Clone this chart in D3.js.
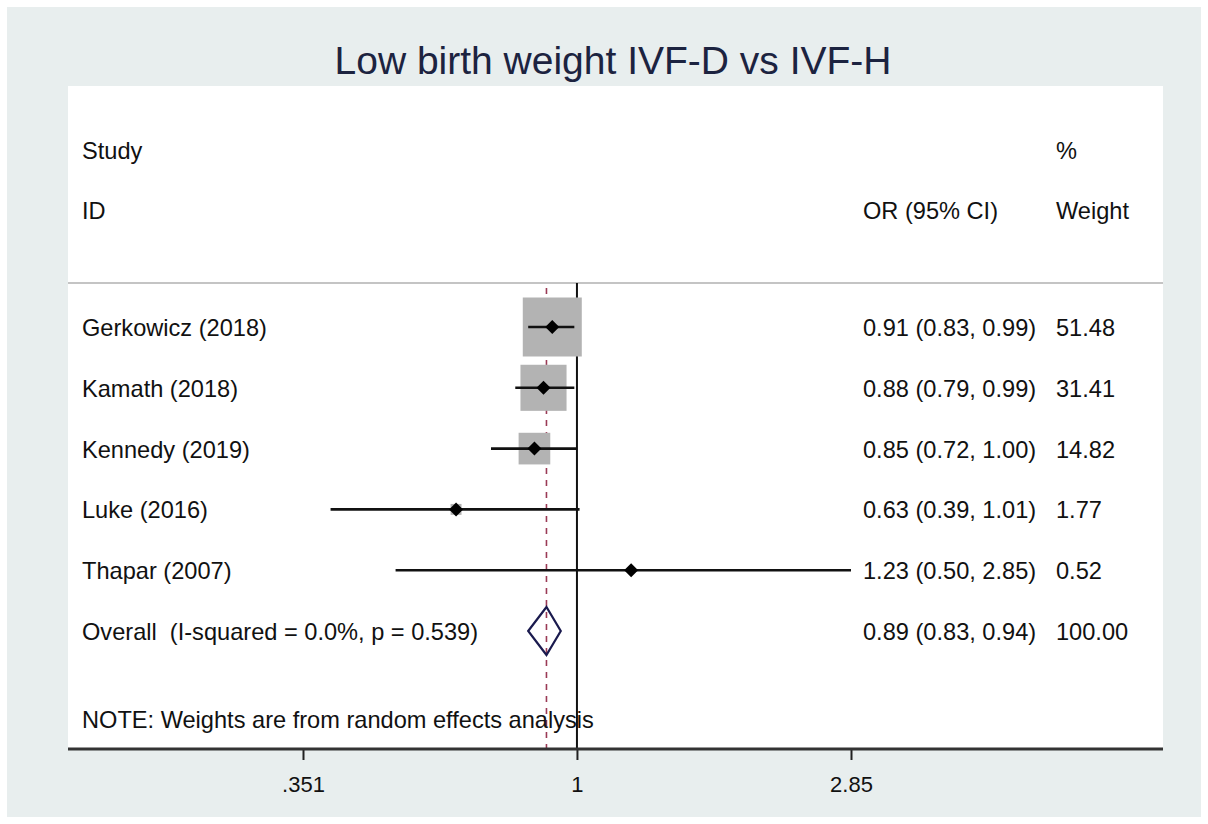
<!DOCTYPE html>
<html>
<head>
<meta charset="utf-8">
<script src="https://cdn.jsdelivr.net/npm/d3@7"></script>
<style>
  html, body { margin: 0; padding: 0; background: #fff; }
  svg { display: block; font-family: "Liberation Sans", Arial, sans-serif; }
</style>
</head>
<body>
<div id="chart"></div>
<script>
// data
const studies = ["Gerkowicz (2018)", "Kamath (2018)", "Kennedy (2019)", "Luke (2016)", "Thapar (2007)"];
const oddsRatio = [0.91, 0.88, 0.85, 0.63, 1.23];
const ciLow = [0.83, 0.79, 0.72, 0.39, 0.50];
const ciHigh = [0.99, 0.99, 1.00, 1.01, 2.85];
const weights = [51.48, 31.41, 14.82, 1.77, 0.52];
const overallLabel = "Overall  (I-squared = 0.0%, p = 0.539)";
const overall = [0.89, 0.83, 0.94]; // OR, lo, hi
const overallWeight = 100.00;
const tickValues = [0.351, 1, 2.85];
const tickLabels = [".351", "1", "2.85"];

const W = 1208, H = 824;
const plot = { left: 68, right: 1163, top: 86, bottom: 749 };

const svg = d3.select("#chart").append("svg")
    .attr("width", W).attr("height", H);

// outer background
svg.append("rect").attr("width", W).attr("height", H).attr("fill", "#fff");
svg.append("rect").attr("x", 7).attr("y", 7).attr("width", W - 14).attr("height", H - 14)
    .attr("fill", "#e8eeee");
svg.append("rect").attr("x", plot.left).attr("y", plot.top)
    .attr("width", plot.right - plot.left).attr("height", plot.bottom - plot.top)
    .attr("fill", "#fff");

// title
svg.append("text")
    .attr("x", 613).attr("y", 74)
    .attr("text-anchor", "middle")
    .attr("font-size", 39)
    .attr("fill", "#1c2340")
    .text("Low birth weight IVF-D vs IVF-H");

// scales
const x = d3.scaleLog().domain([0.351, 2.85]).range([303, 851]);
const rows = studies.concat([overallLabel]);
const y = d3.scalePoint().domain(rows).range([327, 631]);
const boxSize = d3.scaleSqrt().domain([0, 51.48]).range([0, 59]);

const fs = 23.6;
const colText = { label: 82, or: 863, weight: 1056 };

// header
const hdr = svg.append("g").attr("font-size", fs).attr("fill", "#111");
hdr.append("text").attr("x", colText.label).attr("y", 159).text("Study");
hdr.append("text").attr("x", colText.label).attr("y", 219).text("ID");
hdr.append("text").attr("x", colText.weight).attr("y", 159).text("%");
hdr.append("text").attr("x", colText.or).attr("y", 219).text("OR (95% CI)");
hdr.append("text").attr("x", colText.weight).attr("y", 219).text("Weight");

// separator under header
svg.append("line")
    .attr("x1", plot.left).attr("x2", plot.right)
    .attr("y1", 283).attr("y2", 283)
    .attr("stroke", "#c4c4c4").attr("stroke-width", 2);

// null line at OR = 1
svg.append("line")
    .attr("x1", x(1)).attr("x2", x(1))
    .attr("y1", 283).attr("y2", plot.bottom)
    .attr("stroke", "#111").attr("stroke-width", 2);

// dashed line at overall estimate
svg.append("line")
    .attr("x1", x(overall[0])).attr("x2", x(overall[0]))
    .attr("y1", 288).attr("y2", plot.bottom)
    .attr("stroke", "#9a3a55").attr("stroke-width", 1.6)
    .attr("stroke-dasharray", "6,6");

const rowsData = studies.map((s, i) => ({
    name: s, or: oddsRatio[i], lo: ciLow[i], hi: ciHigh[i], w: weights[i]
}));

// weight boxes
svg.append("g").selectAll("rect")
    .data(rowsData)
    .join("rect")
    .attr("x", d => x(d.or) - boxSize(d.w) / 2)
    .attr("y", d => y(d.name) - boxSize(d.w) / 2)
    .attr("width", d => boxSize(d.w))
    .attr("height", d => boxSize(d.w))
    .attr("fill", "#b3b3b3");

// CI lines
svg.append("g").selectAll("line")
    .data(rowsData)
    .join("line")
    .attr("x1", d => x(d.lo)).attr("x2", d => x(d.hi))
    .attr("y1", d => y(d.name)).attr("y2", d => y(d.name))
    .attr("stroke", "#111").attr("stroke-width", 2.6);

// point estimates (small filled diamonds)
const pt = 7;
svg.append("g").selectAll("path")
    .data(rowsData)
    .join("path")
    .attr("d", d => {
        const cx = x(d.or), cy = y(d.name);
        return `M${cx - pt},${cy}L${cx},${cy - pt}L${cx + pt},${cy}L${cx},${cy + pt}Z`;
    })
    .attr("fill", "#000");

// overall diamond
const oy = y(overallLabel);
svg.append("path")
    .attr("d", `M${x(overall[1])},${oy}L${x(overall[0])},${oy - 24}L${x(overall[2])},${oy}L${x(overall[0])},${oy + 24}Z`)
    .attr("fill", "none")
    .attr("stroke", "#1a1a4e").attr("stroke-width", 2.2);

// row text
const fmt = d3.format(".2f");
const txt = svg.append("g").attr("font-size", fs).attr("fill", "#111");
txt.selectAll("text.lab")
    .data(rows)
    .join("text")
    .attr("class", "lab")
    .attr("x", colText.label).attr("y", d => y(d) + 9)
    .attr("xml:space", "preserve")
    .style("white-space", "pre")
    .text(d => d);

const orRows = rowsData.map(d => ({ name: d.name, or: d.or, lo: d.lo, hi: d.hi, w: d.w }))
    .concat([{ name: overallLabel, or: overall[0], lo: overall[1], hi: overall[2], w: overallWeight }]);

txt.selectAll("text.or")
    .data(orRows)
    .join("text")
    .attr("class", "or")
    .attr("x", colText.or).attr("y", d => y(d.name) + 9)
    .text(d => `${fmt(d.or)} (${fmt(d.lo)}, ${fmt(d.hi)})`);

txt.selectAll("text.wt")
    .data(orRows)
    .join("text")
    .attr("class", "wt")
    .attr("x", colText.weight).attr("y", d => y(d.name) + 9)
    .text(d => fmt(d.w));

// note
txt.append("text")
    .attr("x", colText.label).attr("y", 728)
    .text("NOTE: Weights are from random effects analysis");

// x axis
const axis = svg.append("g")
    .attr("transform", `translate(0,${plot.bottom})`)
    .call(d3.axisBottom(x)
        .tickValues(tickValues)
        .tickFormat((d, i) => tickLabels[i])
        .tickSize(11)
        .tickPadding(16));
axis.select(".domain").remove();
axis.selectAll(".tick line").attr("stroke", "#222").attr("stroke-width", 2);
axis.selectAll(".tick text")
    .attr("font-size", 22)
    .attr("font-family", "Liberation Sans, Arial, sans-serif")
    .attr("fill", "#111");
svg.append("line")
    .attr("x1", plot.left).attr("x2", plot.right)
    .attr("y1", plot.bottom).attr("y2", plot.bottom)
    .attr("stroke", "#333").attr("stroke-width", 3);
</script>
</body>
</html>
